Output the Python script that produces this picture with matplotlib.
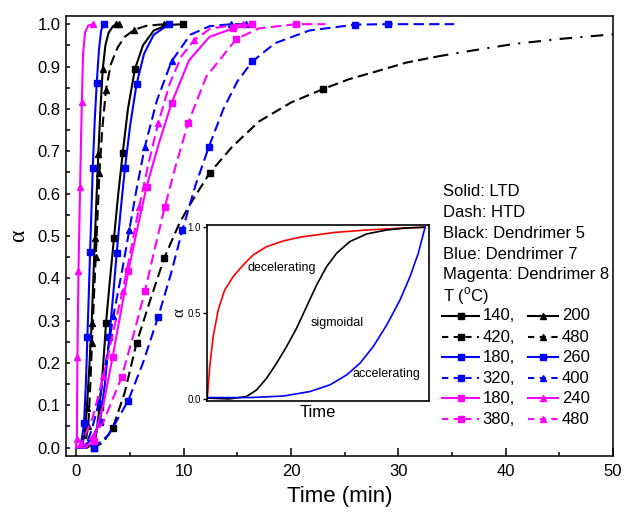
import matplotlib
matplotlib.use("Agg")
import matplotlib.pyplot as plt
from matplotlib.ticker import MultipleLocator, FormatStrFormatter
from matplotlib.lines import Line2D

plt.rcParams['font.family'] = ['Liberation Sans', 'DejaVu Sans']

# ---------------- data ----------------
# Dendrimer 5 (black)
t_k140 = [1.0, 1.67, 1.9, 2.15, 2.45, 2.76, 3.1, 3.5, 3.9, 4.31, 4.8, 5.45, 6.2, 7.2, 8.5, 9.94]
a_k140 = [0.0, 0.01, 0.04, 0.095, 0.18, 0.295, 0.39, 0.495, 0.6, 0.695, 0.8, 0.894, 0.95, 0.985, 0.998, 1.0]
m_k140 = [3, 5, 7, 9, 11, 15]

t_k200 = [0.5, 0.75, 0.97, 1.2, 1.42, 1.57, 1.72, 1.88, 2.04, 2.24, 2.45, 2.7, 3.0, 3.4, 3.7, 4.0]
a_k200 = [0.0, 0.03, 0.094, 0.19, 0.295, 0.395, 0.494, 0.595, 0.694, 0.8, 0.894, 0.95, 0.98, 0.995, 1.0, 1.0]
m_k200 = [2, 4, 6, 8, 10, 14, 15]

t_k420 = [0.0, 1.6, 2.5, 3.38, 4.5, 5.6, 6.9, 8.17, 9.6, 10.6, 12.4, 14.5, 17.0, 20.0, 23.0,
          25.4, 27.9, 30.7, 33.5, 36.2, 40.7, 45.0, 50.0]
a_k420 = [0.0, 0.0, 0.012, 0.046, 0.13, 0.247, 0.35, 0.447, 0.53, 0.575, 0.648, 0.71, 0.77, 0.815, 0.847,
          0.870, 0.888, 0.909, 0.923, 0.935, 0.953, 0.965, 0.976]
m_k420 = [1, 3, 5, 7, 10, 14]
k420_split = 18

t_k480 = [0.0, 0.6, 0.85, 1.1, 1.28, 1.45, 1.62, 1.8, 1.97, 2.14, 2.4, 2.75, 3.2, 3.84, 4.5, 5.4, 6.5, 8.2]
a_k480 = [0.0, 0.0, 0.015, 0.05, 0.14, 0.248, 0.35, 0.45, 0.55, 0.648, 0.75, 0.845, 0.905, 0.945, 0.97, 0.987, 0.996, 1.0]
m_k480 = [3, 5, 7, 9, 11, 15, 17]

# Dendrimer 7 (blue)
t_b180 = [0.0, 0.6, 1.4, 2.2, 2.65, 3.07, 3.42, 3.75, 4.12, 4.52, 5.0, 5.6, 6.3, 7.2, 8.64]
a_b180 = [0.0, 0.0, 0.02, 0.06, 0.15, 0.262, 0.36, 0.459, 0.56, 0.66, 0.76, 0.858, 0.93, 0.975, 1.0]
m_b180 = [3, 5, 7, 9, 11, 14]

t_b260 = [0.0, 0.3, 0.5, 0.71, 0.88, 1.02, 1.15, 1.27, 1.4, 1.52, 1.7, 1.89, 2.1, 2.3, 2.57]
a_b260 = [0.0, 0.0, 0.02, 0.059, 0.15, 0.261, 0.36, 0.461, 0.56, 0.66, 0.77, 0.861, 0.94, 0.985, 1.0]
m_b260 = [3, 5, 7, 9, 11, 14]

t_b320 = [0.0, 1.6, 3.0, 4.83, 6.2, 7.62, 8.8, 9.88, 11.1, 12.35, 13.7, 15.0, 16.4, 18.5, 21.7, 26.0, 29.0, 32.0, 35.2]
a_b320 = [0.0, 0.0, 0.03, 0.111, 0.2, 0.309, 0.41, 0.514, 0.62, 0.711, 0.8, 0.865, 0.912, 0.955, 0.985, 0.999, 1.0, 1.0, 1.0]
m_b320 = [1, 3, 5, 7, 9, 12, 15, 16]

t_b400 = [0.0, 0.8, 1.4, 2.14, 2.8, 3.44, 4.2, 4.92, 5.6, 6.38, 7.5, 8.86, 10.6, 12.4, 14.4, 15.8]
a_b400 = [0.0, 0.0, 0.04, 0.109, 0.21, 0.311, 0.41, 0.513, 0.61, 0.711, 0.82, 0.912, 0.975, 0.995, 1.0, 1.0]
m_b400 = [3, 5, 7, 9, 11, 14, 15]

# Dendrimer 8 (magenta)
t_m180 = [0.0, 0.8, 1.6, 2.5, 3.38, 4.1, 4.83, 5.7, 6.53, 7.7, 8.86, 10.5, 12.4, 14.6, 16.4]
a_m180 = [0.0, 0.0, 0.015, 0.1, 0.215, 0.315, 0.416, 0.52, 0.616, 0.72, 0.813, 0.915, 0.97, 0.99, 1.0]
m_m180 = [2, 4, 6, 8, 10, 13, 14]

t_m240 = [-0.05, 0.04, 0.09, 0.19, 0.34, 0.5, 0.62, 0.8, 1.1, 1.52]
a_m240 = [0.0, 0.02, 0.215, 0.416, 0.616, 0.815, 0.93, 0.98, 0.997, 1.0]
m_m240 = [1, 2, 3, 4, 5, 9]

t_m380 = [0.0, 1.0, 2.5, 4.21, 5.3, 6.38, 7.3, 8.24, 9.3, 10.4, 12.1, 14.9, 17.0, 20.5, 23.2]
a_m380 = [0.0, 0.01, 0.06, 0.166, 0.265, 0.369, 0.47, 0.569, 0.67, 0.766, 0.876, 0.965, 0.99, 1.0, 1.0]
m_m380 = [3, 5, 7, 9, 11, 13]

t_m480 = [0.0, 0.5, 1.5, 2.51, 3.4, 4.3, 5.1, 5.85, 6.7, 7.62, 8.7, 9.8, 11.0, 12.5, 15.5]
a_m480 = [0.0, 0.01, 0.07, 0.168, 0.27, 0.369, 0.47, 0.569, 0.67, 0.766, 0.86, 0.925, 0.963, 0.99, 1.0]
m_m480 = [3, 5, 7, 9, 12, 14]

# inset: model curves
t_in = [0.0, 0.011, 0.027, 0.05, 0.08, 0.119, 0.165, 0.211, 0.272, 0.349, 0.425, 0.579, 0.732, 0.885, 1.0]
a_dec = [0.0, 0.188, 0.363, 0.518, 0.635, 0.713, 0.78, 0.839, 0.887, 0.92, 0.942, 0.969, 0.984, 0.994, 1.0]
t_sig = [0.0, 0.1, 0.18, 0.226, 0.272, 0.318, 0.364, 0.41, 0.456, 0.502, 0.548, 0.594, 0.655, 0.732, 0.824, 0.916, 1.0]
a_sig = [0.005, 0.0, 0.014, 0.052, 0.12, 0.208, 0.305, 0.412, 0.538, 0.664, 0.771, 0.849, 0.917, 0.961, 0.984, 0.996, 1.0]
t_acc = [0.0, 0.195, 0.349, 0.471, 0.563, 0.64, 0.701, 0.762, 0.824, 0.885, 0.931, 0.969, 1.0]
a_acc = [0.008, 0.008, 0.017, 0.043, 0.082, 0.14, 0.208, 0.305, 0.431, 0.577, 0.713, 0.849, 1.0]

# legend entries: (color, dashed, marker, label)
legend_rows = [
    ('black', False, 's', '140,', '^', '200'),
    ('black', True, 's', '420,', '^', '480'),
    ('blue', False, 's', '180,', 's', '260'),
    ('blue', True, 's', '320,', '^', '400'),
    ('magenta', False, 's', '180,', '^', '240'),
    ('magenta', True, 's', '380,', '^', '480'),
]
note_lines = ['Solid: LTD', 'Dash: HTD', 'Black: Dendrimer 5', 'Blue: Dendrimer 7',
              'Magenta: Dendrimer 8', r'T ($^\mathregular{o}$C)']

# ---------------- figure ----------------
fig = plt.figure(figsize=(6.24, 5.13), dpi=100)
ax = fig.add_axes([0.1053, 0.1111, 0.8771, 0.8583])

LW = 1.5
MS = 4.5
DASH = (5, 2.5)


def curve(t, a, color, dashed, marker, mk):
    kw = dict(color=color, lw=LW, marker=marker, ms=MS, markevery=mk, mec=color, mfc=color)
    if dashed:
        kw.update(linestyle=(0, DASH))
    ax.plot(t, a, **kw)


curve(t_k140, a_k140, 'black', False, 's', m_k140)
curve(t_k200, a_k200, 'black', False, '^', m_k200)
n = k420_split
ax.plot(t_k420[:n + 1], a_k420[:n + 1], color='black', lw=LW, linestyle=(0, DASH),
        marker='s', ms=MS, markevery=m_k420)
ax.plot(t_k420[n:], a_k420[n:], color='black', lw=LW, linestyle=(0, (6, 4, 1, 4)))
curve(t_k480, a_k480, 'black', True, '^', m_k480)
curve(t_b180, a_b180, 'blue', False, 's', m_b180)
curve(t_b260, a_b260, 'blue', False, 's', m_b260)
curve(t_b320, a_b320, 'blue', True, 's', m_b320)
curve(t_b400, a_b400, 'blue', True, '^', m_b400)
curve(t_m180, a_m180, 'magenta', False, 's', m_m180)
curve(t_m240, a_m240, 'magenta', False, '^', m_m240)
curve(t_m380, a_m380, 'magenta', True, 's', m_m380)
curve(t_m480, a_m480, 'magenta', True, '^', m_m480)

ax.set_xlim(-1, 50)
ax.set_ylim(-0.02, 1.02)
ax.xaxis.set_major_locator(MultipleLocator(10))
ax.xaxis.set_minor_locator(MultipleLocator(5))
ax.yaxis.set_major_locator(MultipleLocator(0.1))
ax.yaxis.set_minor_locator(MultipleLocator(0.05))
ax.yaxis.set_major_formatter(FormatStrFormatter('%.1f'))
ax.tick_params(which='both', direction='in', top=False, right=False, labelsize=12, width=1.1)
ax.tick_params(axis='x', which='major', length=6, pad=6)
ax.tick_params(axis='x', which='minor', length=3)
ax.tick_params(axis='y', which='both', length=3)
for s in ax.spines.values():
    s.set_linewidth(1.1)
ax.set_xlabel('Time (min)', fontsize=16, labelpad=5)
ax.set_ylabel('α', fontsize=17, family=['Liberation Serif', 'DejaVu Serif'], labelpad=6)

# text notes
for i, s in enumerate(note_lines):
    ax.text(0.689, 0.600 - i * 0.0472, s, transform=ax.transAxes, fontsize=12, va='center', ha='left')

row_y = [0.319, 0.270, 0.224, 0.177, 0.131, 0.084]
for y, (c, dashed, mk1, lab1, mk2, lab2) in zip(row_y, legend_rows):
    ls = (0, (3.0, 2.6)) if dashed else '-'
    for (x0, x1, xm, xt, mk, lab) in [(0.687, 0.756, 0.7215, 0.762, mk1, lab1),
                                      (0.845, 0.900, 0.8725, 0.907, mk2, lab2)]:
        ax.add_line(Line2D([x0, x1], [y, y], transform=ax.transAxes, color=c, lw=LW, ls=ls))
        ax.add_line(Line2D([xm], [y], transform=ax.transAxes, color=c, marker=mk, ms=MS, ls='none'))
        ax.text(xt, y, lab, transform=ax.transAxes, fontsize=12, va='center', ha='left')

# ---------------- inset ----------------
ins = fig.add_axes([0.3322, 0.2183, 0.3553, 0.3431])
ins.plot(t_in, a_dec, color='red', lw=1.2)
ins.plot(t_sig, a_sig, color='black', lw=1.2)
ins.plot(t_acc, a_acc, color='blue', lw=1.2)
ins.set_xlim(0, 1.018)
ins.set_ylim(-0.012, 1.013)
ins.set_xticks([])
ins.set_yticks([0.0, 0.5, 1.0])
ins.yaxis.set_major_formatter(FormatStrFormatter('%.1f'))
ins.tick_params(axis='y', direction='out', length=3, labelsize=7, pad=1.5, width=1)
for s in ins.spines.values():
    s.set_linewidth(1.2)
ins.set_xlabel('Time', fontsize=12, labelpad=3)
ins.set_ylabel('α', fontsize=12, family=['Liberation Serif', 'DejaVu Serif'], labelpad=0.5)
ins.text(0.186, 0.763, 'decelerating', fontsize=9, va='center', ha='left')
ins.text(0.473, 0.443, 'sigmoidal', fontsize=9, va='center', ha='left')
ins.text(0.667, 0.146, 'accelerating', fontsize=9, va='center', ha='left')

fig.savefig('out.png', dpi=100)
